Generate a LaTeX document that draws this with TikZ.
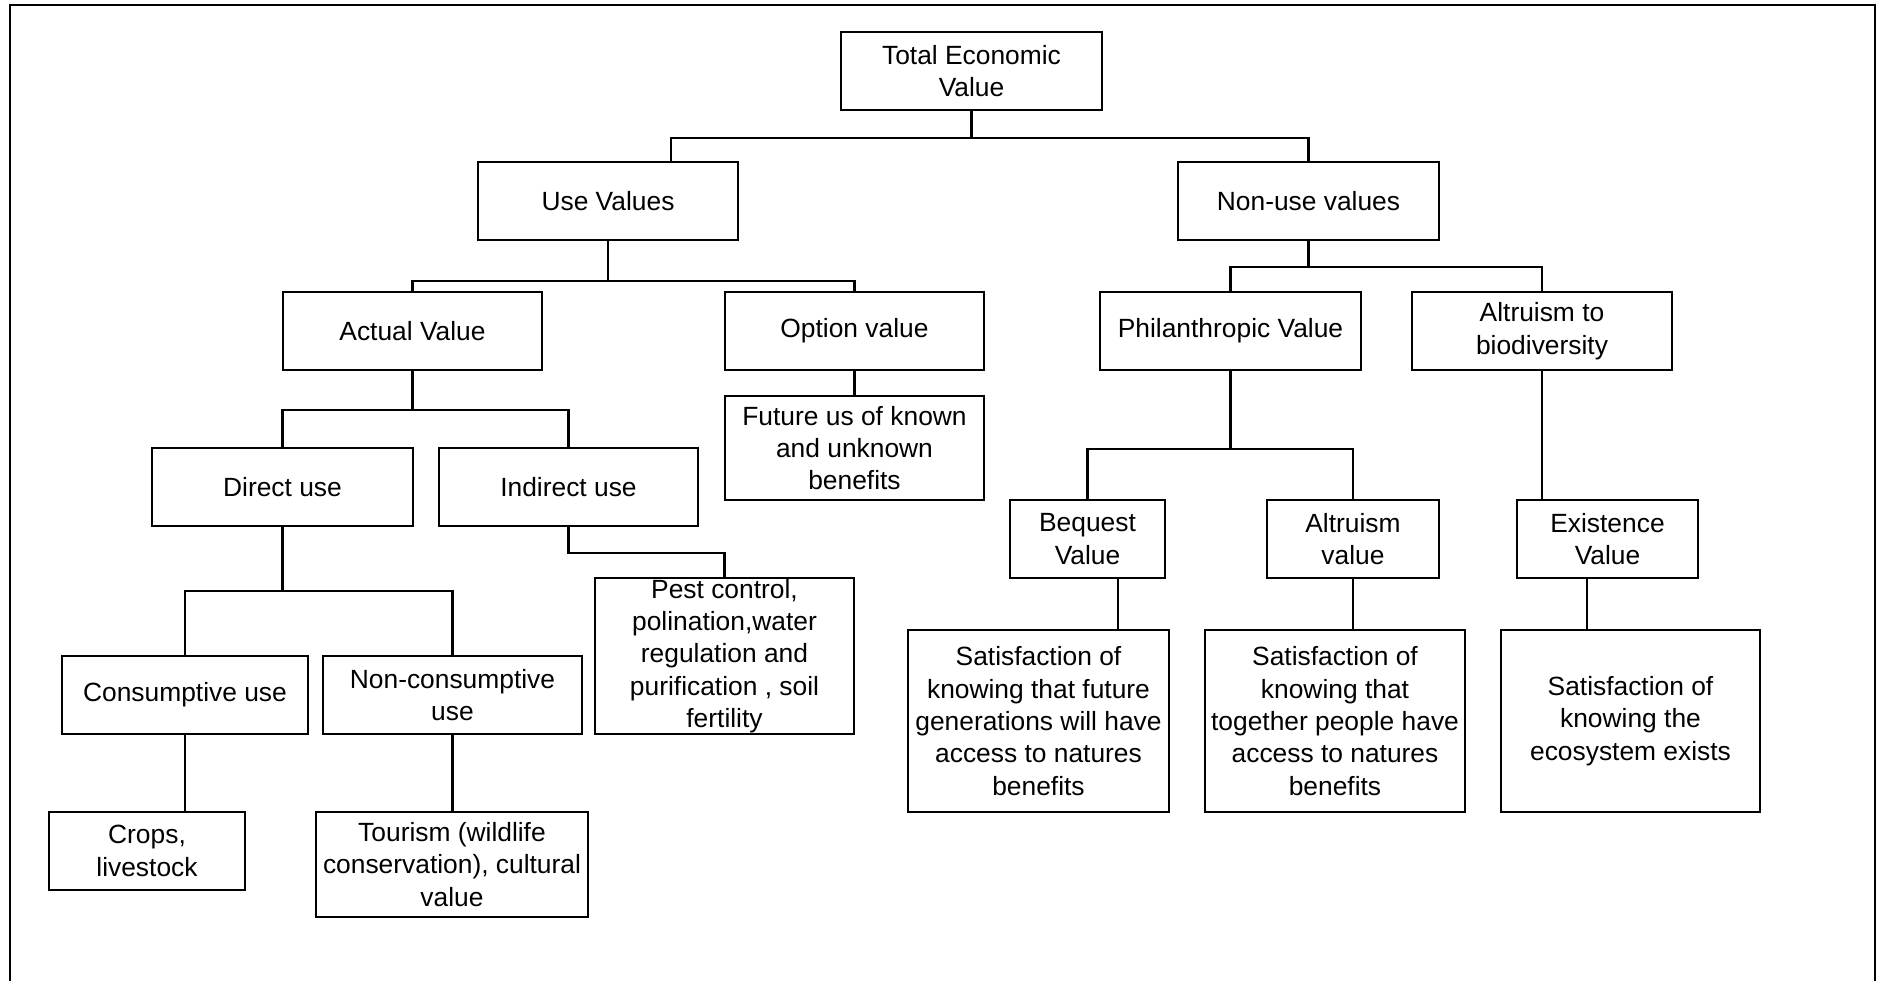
\documentclass[tikz,border=0pt]{standalone}
\usepackage{fontspec}
\setmainfont{Liberation Sans}
\tikzset{
  valbox/.style={draw, line width=0.7pt, align=center, inner sep=0pt, font=\fontsize{7.5}{9.2}\selectfont},
  link/.style={line width=0.7pt}
}
\newcommand{\valuebox}[6]{%
\node[valbox, minimum width={#4*0.01cm}, minimum height={#5*0.01cm}] (#1) at (#2,#3) {#6};
}

\begin{document}
\begin{tikzpicture}[x=0.01cm, y=-0.01cm]

\useasboundingbox (0,0) rectangle (1881,981);
\draw[link] (10,981) -- (10,5) -- (1875,5) -- (1875,981);

% top levels
\valuebox{tev}{971.5}{71}{261}{78}{Total Economic\\Value}
\valuebox{use}{608}{201}{260}{78}{Use Values}
\valuebox{nonuse}{1308.5}{201}{261}{78}{Non-use values}

\valuebox{actual}{412.5}{331}{259}{78}{Actual Value}
\valuebox{option}{854.5}{331}{259}{78}{Option value}
\valuebox{phil}{1230.5}{331}{261}{78}{Philanthropic Value}
\valuebox{altbio}{1542}{331}{260}{78}{Altruism to\\biodiversity}

\valuebox{future}{854.5}{448}{259}{104}{Future us of known\\and unknown\\benefits}
\valuebox{direct}{282.5}{487}{261}{78}{Direct use}
\valuebox{indirect}{568.5}{487}{259}{78}{Indirect use}

\valuebox{bequest}{1087.5}{539}{155}{78}{Bequest\\Value}
\valuebox{altval}{1353}{539}{172}{78}{Altruism\\value}
\valuebox{exist}{1607.5}{539}{181}{78}{Existence\\Value}

\valuebox{pest}{724.5}{656}{259}{156}{Pest control,\\polination,water\\regulation and\\purification , soil\\fertility}
\valuebox{consum}{185}{695}{246}{78}{Consumptive use}
\valuebox{noncons}{452.5}{695}{259}{78}{Non-consumptive\\use}

\valuebox{satfut}{1038.5}{721}{261}{182}{Satisfaction of\\knowing that future\\generations will have\\access to natures\\benefits}
\valuebox{sattog}{1335}{721}{260}{182}{Satisfaction of\\knowing that\\together people have\\access to natures\\benefits}
\valuebox{sateco}{1630.5}{721}{259}{182}{Satisfaction of\\knowing the\\ecosystem exists}

\valuebox{crops}{147}{851}{196}{78}{Crops,\\livestock}
\valuebox{tourism}{452}{864.5}{272}{105}{Tourism (wildlife\\conservation), cultural\\value}

% connectors
\draw[link] (tev.south) -- ++(0,27) coordinate (b0);
\draw[link] ([shift={(63,0)}]use.north) |- (b0) -| (nonuse.north);

\draw[link] (use.south) -- ++(0,40) coordinate (b1);
\draw[link] (actual.north) |- (b1) -| (option.north);

\draw[link] (nonuse.south) -- ++(0,26) coordinate (b2);
\draw[link] (phil.north) |- (b2) -| (altbio.north);

\draw[link] (actual.south) -- ++(0,39) coordinate (b3);
\draw[link] (direct.north) |- (b3) -| (indirect.north);

\draw[link] (option.south) -- (future.north);
\draw[link] (indirect.south) -- ++(0,26) -| (pest.north);

\draw[link] (direct.south) -- ++(0,64) coordinate (b4);
\draw[link] (consum.north) |- (b4) -| (noncons.north);

\draw[link] (consum.south) -- (consum.south |- crops.north);
\draw[link] (noncons.south) -- (noncons.south |- tourism.north);

\draw[link] (phil.south) -- ++(0,78) coordinate (b5);
\draw[link] (bequest.north) |- (b5) -| (altval.north);
\draw[link] (altbio.south) -- (altbio.south |- exist.north);

\draw[link] ([shift={(79.5,0)}]satfut.north) -- ++(0,-52);
\draw[link] (altval.south) -- (altval.south |- sattog.north);
\draw[link] ([shift={(-43.5,0)}]sateco.north) -- ++(0,-52);

\end{tikzpicture}
\end{document}
